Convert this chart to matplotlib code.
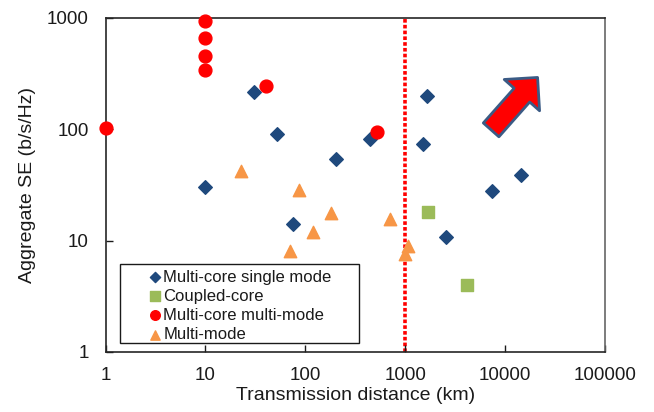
import matplotlib.pyplot as plt
from matplotlib.patches import Rectangle

plt.rcParams["font.family"] = ["Liberation Sans", "DejaVu Sans"]

# Multi-core single mode
mcsm_dist = [10, 31, 52, 76, 203, 447, 1500, 1640, 2540, 7340, 14300]
mcsm_se = [30.5, 217, 91.5, 14.1, 54, 81.5, 74, 201, 10.7, 28.1, 38.7]

# Coupled-core
cc_dist = [1700, 4130]
cc_se = [18.1, 4.0]

# Multi-core multi-mode
mcmm_dist = [1, 10, 10, 10, 10, 40, 526]
mcmm_se = [102, 948, 658, 457, 344, 247, 95]

# Multi-mode
mm_dist = [22.7, 70.8, 86.5, 119, 180, 704, 995, 1059]
mm_se = [42.6, 8.1, 28.6, 11.9, 17.9, 15.7, 7.6, 9.0]

limit_dist = 1000

fig = plt.figure(figsize=(6.54, 4.12), dpi=100)
ax = fig.add_axes([105.5 / 654, 1 - 352 / 412, 499.5 / 654, 334 / 412])

ax.axvline(limit_dist, color="#ff0000", linestyle=(0, (1, 0.6)), linewidth=2.6, zorder=1)

ax.scatter(mcsm_dist, mcsm_se, marker="D", s=48, color="#1f497d", label="Multi-core single mode", zorder=3)
ax.scatter(cc_dist, cc_se, marker="s", s=75, color="#9bbb59", label="Coupled-core", zorder=3)
ax.scatter(mcmm_dist, mcmm_se, marker="o", s=85, color="#ff0000", label="Multi-core multi-mode", zorder=3,
           clip_on=False)
ax.scatter(mm_dist, mm_se, marker="^", s=80, color="#f79646", label="Multi-mode", zorder=3)

ax.set_xscale("log")
ax.set_yscale("log")
ax.set_xlim(1, 100000)
ax.set_ylim(1, 1000)
ax.set_xticks([1, 10, 100, 1000, 10000, 100000])
ax.set_xticklabels(["1", "10", "100", "1000", "10000", "100000"])
ax.set_yticks([1, 10, 100, 1000])
ax.set_yticklabels(["1", "10", "100", "1000"])
ax.minorticks_off()
ax.tick_params(direction="in", length=5, width=1, labelsize=13.5, colors="#1a1a1a", pad=11)
ax.tick_params(axis="y", pad=12)
for side in ax.spines.values():
    side.set_color("#262626")
    side.set_linewidth(1.2)
ax.spines["right"].set_color("#666666")

ax.set_xlabel("Transmission distance (km)", fontsize=14, color="#1a1a1a", labelpad=2)
ax.set_ylabel("Aggregate SE (b/s/Hz)", fontsize=14, color="#1a1a1a", labelpad=8)

# arrow pointing towards better performance
ax.annotate("", xy=(0.865, 0.822), xytext=(0.772, 0.665), xycoords="axes fraction",
            arrowprops=dict(arrowstyle="simple,head_length=1.7,head_width=3.4,tail_width=1.5",
                            mutation_scale=10, fc="#ff0000", ec="#3b5b85", lw=2,
                            shrinkA=0, shrinkB=0))

# legend box is wider than its entries, so draw the frame separately
ax.add_patch(Rectangle((0.029, 0.027), 0.4785, 0.2365, transform=ax.transAxes,
                       fill=True, facecolor="white", edgecolor="#1a1a1a", linewidth=1.0, zorder=4))
leg = ax.legend(loc="upper left", bbox_to_anchor=(0.0826, 0.247), fontsize=12,
                frameon=False, handlelength=1.0, handletextpad=0.0, labelspacing=0.25,
                borderpad=0, borderaxespad=0, markerscale=0.75)
leg.set_zorder(5)
for t in leg.get_texts():
    t.set_color("#1a1a1a")

fig.savefig("out.png", dpi=100)
